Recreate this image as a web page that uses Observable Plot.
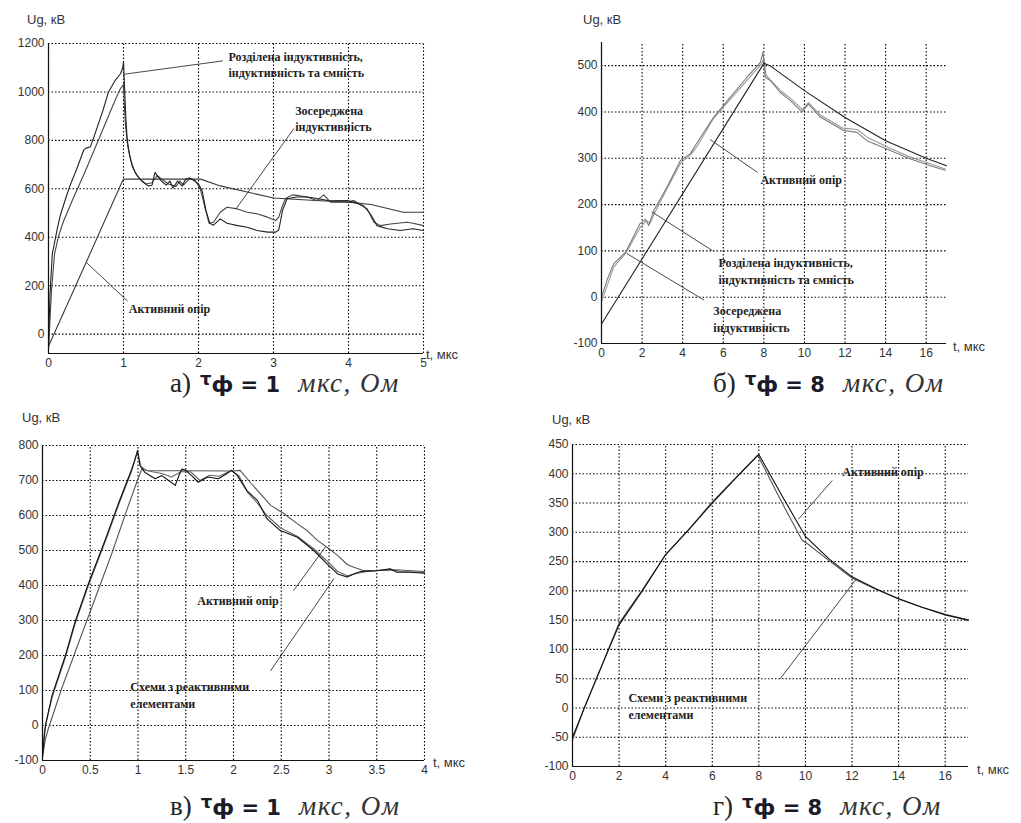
<!DOCTYPE html>
<html><head><meta charset="utf-8">
<script src="https://cdn.jsdelivr.net/npm/d3@7"></script>
<script src="https://cdn.jsdelivr.net/npm/@observablehq/plot@0.6"></script>
<style>
html,body{margin:0;padding:0;background:#fff;}
#wrap{position:relative;width:1021px;height:823px;background:#fff;overflow:hidden;}
.pan{position:absolute;}
.pan svg{background:transparent !important;max-width:none !important;overflow:visible;}
.lbl{position:absolute;font-family:"Liberation Sans",Arial,sans-serif;font-size:13px;color:#333;white-space:nowrap;line-height:16px;z-index:3;}
.cap{position:absolute;font-family:"Liberation Serif","Times New Roman",serif;font-size:27px;color:#222;white-space:nowrap;line-height:30px;height:30px;z-index:3;}
.cap .tau{font-family:"DejaVu Sans",sans-serif;font-weight:bold;font-size:21px;color:#1a1a2a;margin-left:9px;}
.cap .tau .t{font-size:18px;position:relative;top:-7px;}
.cap .tau .f{font-size:22px;}
.cap i{color:#333;margin-left:18px;letter-spacing:1.5px;}
</style></head>
<body><div id="wrap">
<div class="pan" id="pa" style="left:0;top:0;width:500px;height:372px"></div>
<div class="pan" id="pb" style="left:500px;top:0;width:521px;height:365px"></div>
<div class="pan" id="pc" style="left:0;top:390px;width:500px;height:390px"></div>
<div class="pan" id="pd" style="left:500px;top:390px;width:521px;height:398px"></div>
<div class="lbl" style="left:27px;top:12px">Ug, кВ</div>
<div class="lbl" style="left:583px;top:12px">Ug, кВ</div>
<div class="lbl" style="left:22px;top:410px">Ug, кВ</div>
<div class="lbl" style="left:552px;top:412px">Ug, кВ</div>
<div class="lbl" style="left:426px;top:347px">t, мкс</div>
<div class="lbl" style="left:953px;top:339px">t, мкс</div>
<div class="lbl" style="left:433px;top:755px">t, мкс</div>
<div class="lbl" style="left:977px;top:762px">t, мкс</div>
<div class="cap" style="left:170px;top:368px">а)<span class="tau"><span class="t">τ</span><span class="f">ф</span> = 1</span><i>мкс, Ом</i></div>
<div class="cap" style="left:713px;top:368px">б)<span class="tau"><span class="t">τ</span><span class="f">ф</span> = 8</span><i>мкс, Ом</i></div>
<div class="cap" style="left:170px;top:791px">в)<span class="tau"><span class="t">τ</span><span class="f">ф</span> = 1</span><i>мкс, Ом</i></div>
<div class="cap" style="left:713px;top:791px">г)<span class="tau"><span class="t">τ</span><span class="f">ф</span> = 8</span><i>мкс, Ом</i></div>
</div>
<script>
// ---------- Panel а (τф = 1 мкс) ----------
const aXTicks = [0,1,2,3,4,5];
const aYTicks = [0,200,400,600,800,1000,1200];
const aActive = [[0,-50],[0.5,295],[0.98,628],[1.0,640],[2.03,640],[2.29,612],[3.0,562],[3.5,553],[4.0,545],[4.3,535],[4.73,503],[5.0,503]];
const aDistributed = [[0,-60],[0.01,60],[0.02,165],[0.05,330],[0.12,440],[0.16,493],[0.23,561],[0.29,616],[0.38,685],[0.47,760],[0.5,768],[0.56,774],[0.63,836],[0.72,918],[0.8,1000],[0.89,1048],[0.96,1075],[0.99,1100],[1.0,1123],[1.01,1050],[1.03,900],[1.05,800],[1.08,740],[1.12,690],[1.18,655],[1.25,630],[1.33,612],[1.38,615],[1.42,668],[1.47,645],[1.52,628],[1.57,615],[1.62,632],[1.66,603],[1.72,632],[1.78,612],[1.83,640],[1.88,645],[1.95,632],[2.0,620],[2.05,590],[2.1,510],[2.15,458],[2.2,450],[2.29,476],[2.38,458],[2.52,448],[2.65,441],[2.78,428],[2.92,421],[3.03,421],[3.07,430],[3.12,510],[3.18,559],[3.31,566],[3.45,566],[3.58,560],[3.67,555],[3.76,550],[3.98,552],[4.07,545],[4.2,530],[4.29,497],[4.38,448],[4.52,435],[4.69,428],[4.86,435],[5.0,428]];
const aLumped = [[0,-60],[0.02,60],[0.04,180],[0.08,330],[0.13,400],[0.2,466],[0.33,561],[0.47,658],[0.6,753],[0.73,849],[0.86,945],[0.93,995],[0.96,1014],[0.98,1022],[1.0,1030],[1.01,950],[1.03,850],[1.06,770],[1.1,715],[1.15,670],[1.22,640],[1.3,620],[1.38,625],[1.45,655],[1.5,642],[1.6,620],[1.7,610],[1.75,632],[1.8,615],[1.88,642],[1.95,636],[2.02,605],[2.08,530],[2.14,458],[2.2,462],[2.29,503],[2.38,524],[2.52,517],[2.65,503],[2.78,497],[2.92,483],[3.03,469],[3.07,483],[3.12,530],[3.16,560],[3.25,575],[3.31,573],[3.45,566],[3.58,552],[3.67,575],[3.76,545],[3.98,545],[4.07,552],[4.25,517],[4.34,462],[4.43,448],[4.56,455],[4.78,462],[4.86,458],[5.0,448]];
const aLabels = [
  {x:2.4, y:1117, text:"Розділена індуктивність,\nіндуктивність та ємність"},
  {x:3.29, y:893, text:"Зосереджена\nіндуктивність"},
  {x:1.07, y:109, text:"Активний опір"}];
const aLeads = [[[1.005,1073],[2.32,1128]],[[2.5,517],[3.27,848]],[[0.507,295],[1.05,138]]];

// ---------- Panel б (τф = 8 мкс) ----------
const bXTicks = [0,2,4,6,8,10,12,14,16];
const bYTicks = [-100,0,100,200,300,400,500];
const bActive = [[0,-58],[8,505],[8.3,500],[10,446],[12,388],[14,338],[16,300],[17,284]];
const bDistributed = [[0,0],[0.3,40],[0.6,72],[1.2,98],[1.9,159],[2.17,168],[2.33,155],[2.58,187],[3.23,238],[3.89,295],[4.38,310],[4.63,328],[5.53,389],[6.35,432],[7.17,475],[7.83,507],[7.96,529],[8.07,475],[8.32,468],[8.81,442],[9.3,425],[9.88,400],[10.2,417],[10.78,389],[11.93,360],[12.59,356],[13.08,338],[14.23,317],[15.2,299],[16.2,284],[16.94,274]];
const bLumped = [[0,-10],[0.6,65],[1.2,95],[1.9,150],[2.2,165],[2.4,160],[2.6,180],[3.2,232],[3.9,290],[4.4,308],[4.7,325],[5.5,385],[6.4,430],[7.2,470],[7.9,505],[8.0,515],[8.1,480],[8.3,470],[8.8,447],[9.3,430],[9.9,405],[10.2,420],[10.8,393],[11.9,365],[12.6,362],[13.1,345],[14.2,322],[15.2,303],[16.2,288],[16.94,277]];
const bLabels = [
  {x:7.83, y:256, text:"Активний опір"},
  {x:5.76, y:58, text:"Розділена індуктивність,\nіндуктивність та ємність"},
  {x:5.51, y:-45, text:"Зосереджена\nіндуктивність"}];
const bLeads = [[[5.37,340],[7.67,270]],[[2.49,184],[5.45,101]],[[1.26,94],[5.04,-6]]];

// ---------- Panel в (τф = 1 мкс) ----------
const cXTicks = [0,0.5,1,1.5,2,2.5,3,3.5,4];
const cYTicks = [-100,0,100,200,300,400,500,600,700,800];
const cActive = [[0,-90],[0.03,-40],[0.06,-10],[0.2,105],[0.38,238],[0.55,362],[0.73,495],[0.9,629],[1.0,705],[1.04,733],[1.1,728],[1.5,728],[2.0,727],[2.07,729],[2.19,690],[2.39,629],[2.53,605],[2.67,576],[2.77,557],[2.88,529],[3.0,505],[3.09,486],[3.19,460],[3.26,452],[3.36,443],[3.6,443],[3.7,445],[4.0,440]];
const cReactive1 = [[0,-90],[0.01,-60],[0.03,0],[0.1,86],[0.24,200],[0.34,295],[0.48,405],[0.66,533],[0.8,638],[0.935,733],[0.97,762],[0.995,786],[1.02,743],[1.07,724],[1.12,715],[1.18,705],[1.25,714],[1.32,700],[1.39,686],[1.43,715],[1.46,733],[1.5,729],[1.57,712],[1.63,695],[1.73,710],[1.84,705],[1.92,718],[1.98,729],[2.04,714],[2.14,671],[2.25,643],[2.35,591],[2.49,557],[2.67,538],[2.84,500],[2.98,462],[3.09,433],[3.19,424],[3.26,433],[3.33,440],[3.5,442],[3.64,448],[3.71,438],[3.85,438],[4.0,435]];
const cReactive2 = [[0,-80],[0.02,-20],[0.04,10],[0.1,80],[0.24,195],[0.34,290],[0.48,400],[0.66,528],[0.8,633],[0.935,728],[0.98,770],[1.0,778],[1.03,740],[1.08,730],[1.15,725],[1.25,720],[1.35,710],[1.45,725],[1.55,725],[1.65,700],[1.75,715],[1.85,712],[1.98,729],[2.06,712],[2.15,665],[2.25,635],[2.35,600],[2.49,565],[2.67,540],[2.84,505],[2.98,470],[3.09,440],[3.19,428],[3.3,435],[3.4,440],[3.64,446],[3.75,440],[4.0,437]];
const cLabels = [
  {x:1.62, y:360, text:"Активний опір"},
  {x:0.92, y:90, text:"Схеми з реактивними\nелементами"}];
const cLeads = [[[2.63,386],[2.96,509]],[[2.39,157],[3.05,419]]];

// ---------- Panel г (τф = 8 мкс) ----------
const dXTicks = [0,2,4,6,8,10,12,14,16];
const dYTicks = [-100,-50,0,50,100,150,200,250,300,350,400,450];
const dActive = [[0,-50],[1,48],[2,142],[3,200],[4,262],[5,305],[6,350],[7,392],[8,433],[9,362],[10,293],[11,255],[12,224],[13,204],[14,186],[15,172],[16,159],[17,150]];
const dReactive = [[0,-55],[0.5,0],[1,47],[2,145],[3,202],[4,262],[5,305],[6,352],[7,393],[7.95,432],[9,350],[9.85,287],[10.1,280],[11,252],[12,222],[13,203],[14,187],[15,172],[16,160],[17,150]];
const dLabels = [
  {x:11.58, y:405, text:"Активний опір"},
  {x:2.4, y:5, text:"Схеми з реактивними\nелементами"}];
const dLeads = [[[11.14,388],[9.71,323]],[[8.92,50],[12.14,218]]];

function panel(o) {
  const fmt = d => String(d);
  const grid = {stroke:"#000", strokeOpacity:1, strokeWidth:1.1, strokeDasharray:"1.5,2"};
  const marks = [
    Plot.gridX(o.xTicks, {...grid, y1:o.yDomain[0], y2:o.yDomain[1]}),
    Plot.gridY(o.yTicks, {...grid, x1:o.xDomain[0], x2:o.xDomain[1]}),
    Plot.axisX(o.xTicks, {tickSize:0, tickPadding:5, tickFormat:fmt, label:null, fontSize:12, fill:"#333"}),
    Plot.axisY(o.yTicks, {tickSize:0, tickPadding:4, tickFormat:fmt, label:null, fontSize:12, fill:"#333"}),
  ];
  for (const s of o.series) {
    marks.push(Plot.line(s.data, {x:d=>d[0], y:d=>d[1], stroke:s.color, strokeWidth:s.w || 1.1, curve:"linear"}));
  }
  for (const l of o.leads) {
    marks.push(Plot.line(l, {x:d=>d[0], y:d=>d[1], stroke:"#333", strokeWidth:0.9}));
  }
  marks.push(Plot.text(o.labels, {x:"x", y:"y", text:"text", textAnchor:"start", lineAnchor:"middle", lineHeight:1.38,
    fontFamily:"Liberation Serif, Times New Roman, serif", fontWeight:"bold", fontSize:12, fill:"#222"}));
  marks.push(Plot.ruleX([o.xDomain[0]], {y1:o.yDomain[0], y2:o.yDomain[1], stroke:"#111", strokeWidth:1.2}));
  marks.push(Plot.ruleY([o.yDomain[0]], {x1:o.xDomain[0], x2:o.xDomain[1], stroke:"#111", strokeWidth:1.2}));
  return Plot.plot({
    width:o.width, height:o.height,
    marginLeft:o.m[0], marginRight:o.m[1], marginTop:o.m[2], marginBottom:o.m[3],
    style:{fontFamily:"Liberation Sans, Arial, sans-serif", fontSize:"12px", background:"transparent", overflow:"visible"},
    x:{domain:o.xDomain}, y:{domain:o.yDomain},
    marks
  });
}

document.getElementById("pa").append(panel({
  width:500, height:372, m:[48,77,43,19], xDomain:[0,5], yDomain:[-80,1200], xTicks:aXTicks, yTicks:aYTicks,
  series:[{data:aActive,color:"#3a3a3a"},{data:aLumped,color:"#444"},{data:aDistributed,color:"#222"}],
  labels:aLabels, leads:aLeads}));
document.getElementById("pb").append(panel({
  width:521, height:365, m:[101,75,42,22], xDomain:[0,17], yDomain:[-100,550], xTicks:bXTicks, yTicks:bYTicks,
  series:[{data:bLumped,color:"#9a9a9a"},{data:bDistributed,color:"#7a7a7a"},{data:bActive,color:"#222"}],
  labels:bLabels, leads:bLeads}));
document.getElementById("pc").append(panel({
  width:500, height:390, m:[42,76,55,20], xDomain:[0,4], yDomain:[-100,800], xTicks:cXTicks, yTicks:cYTicks,
  series:[{data:cActive,color:"#555"},{data:cReactive2,color:"#666"},{data:cReactive1,color:"#111"}],
  labels:cLabels, leads:cLeads}));
document.getElementById("pd").append(panel({
  width:521, height:398, m:[72,53,54,22], xDomain:[0,17], yDomain:[-100,450], xTicks:dXTicks, yTicks:dYTicks,
  series:[{data:dReactive,color:"#555"},{data:dActive,color:"#111"}],
  labels:dLabels, leads:dLeads}));
</script>
</body></html>
